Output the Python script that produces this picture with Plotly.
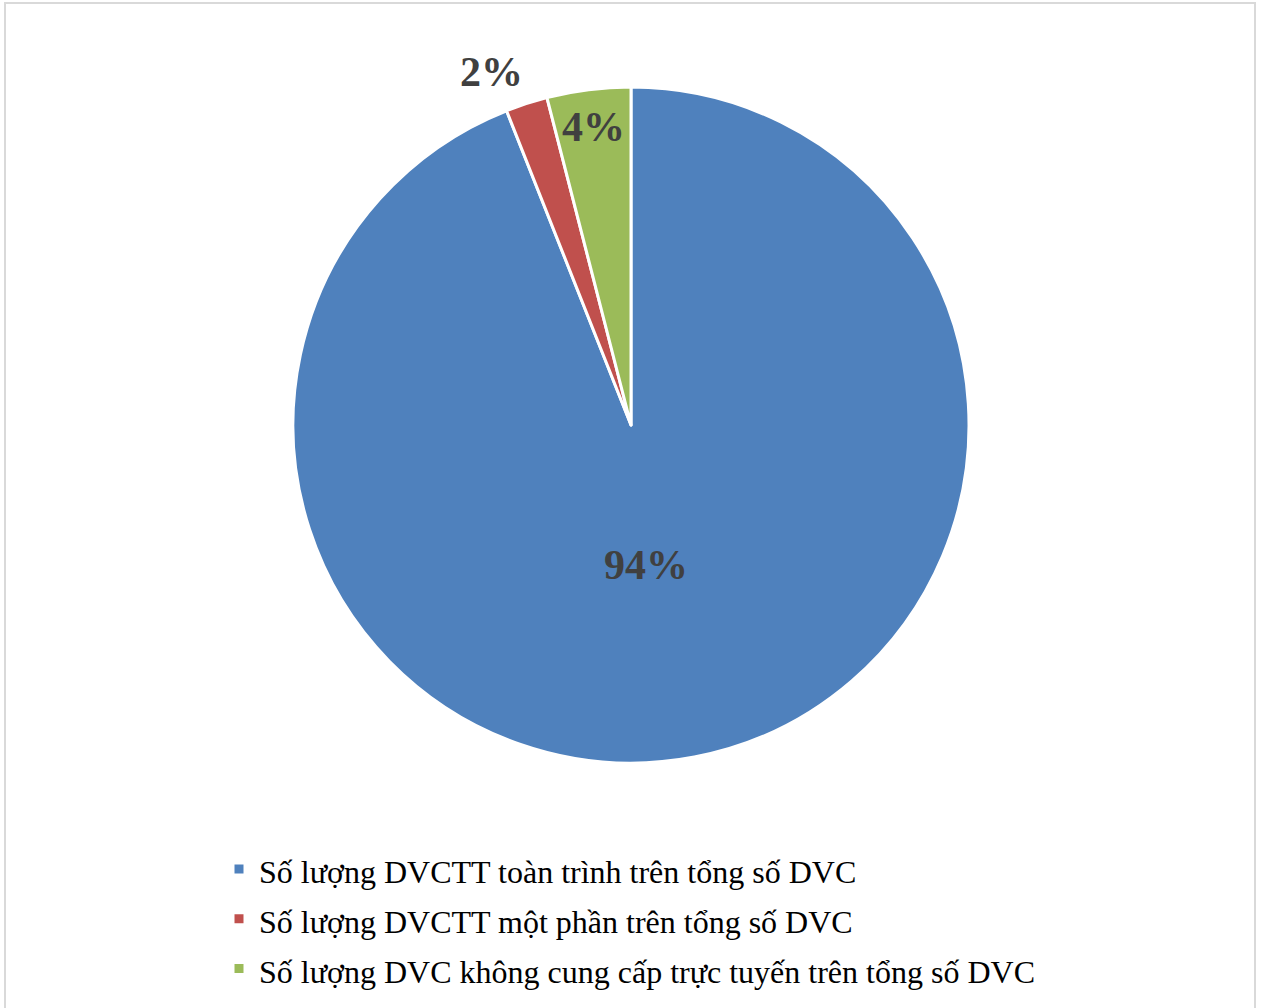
import math
import plotly.graph_objects as go

labels = [
    "Số lượng DVCTT toàn trình trên tổng số DVC",
    "Số lượng DVCTT một phần trên tổng số DVC",
    "Số lượng DVC không cung cấp trực tuyến trên tổng số DVC",
]
values = [94, 2, 4]
colors = ["#4F81BD", "#C0504D", "#9BBB59"]
label_radius = [0.42, 1.12, 0.89]
label_shift = [(-12, -1), (-23, -7), (0, 0)]

W, H = 1262, 1008
ml, mr, mt, mb = 293, 293, 87, 245
pw = W - ml - mr
ph = H - mt - mb


def py(px):
    return (mt + ph - px) / ph


def pxx(px):
    return (px - ml) / pw


fig = go.Figure(go.Pie(
    labels=[f'<span style="font-size:32px">{t}</span>' for t in labels],
    values=values, sort=False, direction="clockwise", rotation=0,
    marker=dict(colors=colors, line=dict(color="white", width=3)),
    textinfo="none", hoverinfo="label+percent",
))

total = sum(values)
cum = 0
for v, r, (sx, sy) in zip(values, label_radius, label_shift):
    mid = (cum + v / 2) / total * 2 * math.pi
    cum += v
    x = 0.5 + 0.5 * r * math.sin(mid)
    y = 0.5 + 0.5 * r * math.cos(mid)
    fig.add_annotation(
        x=x, y=y, xref="paper", yref="paper", showarrow=False,
        xanchor="center", yanchor="middle",
        text=f"<b>{round(v / total * 100)}%</b>", xshift=sx, yshift=sy,
        font=dict(family="Liberation Serif, Times New Roman, serif", size=42, color="#404040"),
    )

fig.add_shape(
    type="rect", xref="paper", yref="paper",
    x0=pxx(5), x1=pxx(1255), y0=py(H + 30), y1=py(3),
    line=dict(color="#d9d9d9", width=2), fillcolor="rgba(0,0,0,0)", layer="below",
)

fig.update_layout(
    width=W, height=H,
    margin=dict(l=ml, r=mr, t=mt, b=mb, autoexpand=False),
    paper_bgcolor="white", plot_bgcolor="white",
    showlegend=True,
    legend=dict(
        x=pxx(219), y=py(839), xanchor="left", yanchor="top",
        font=dict(family="Liberation Serif, Times New Roman, serif", size=36, color="#000000"),
        bgcolor="rgba(0,0,0,0)", traceorder="normal",
    ),
)

fig.write_html("out.html")
